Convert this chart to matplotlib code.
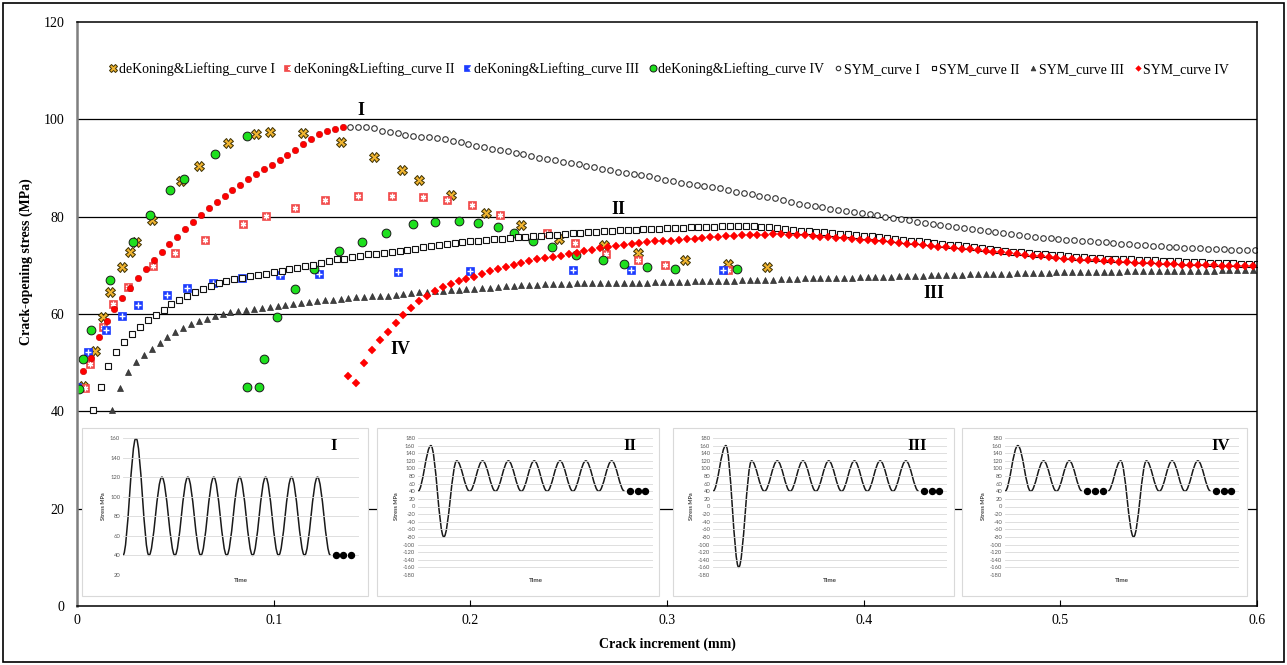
import matplotlib
matplotlib.use("Agg")
import matplotlib.pyplot as plt
from matplotlib.path import Path
from matplotlib.patches import PathPatch, Rectangle
from matplotlib.legend_handler import HandlerTuple

plt.rcParams['font.family'] = ['Liberation Serif', 'DejaVu Serif']
plt.rcParams['axes.unicode_minus'] = False

# ---- deKoning & Liefting test points ----
dk1_x = [0.003, 0.009, 0.013, 0.017, 0.023, 0.027, 0.030, 0.038, 0.053, 0.062, 0.077, 0.091, 0.098, 0.115,
         0.134, 0.151, 0.165, 0.174, 0.190, 0.208, 0.226, 0.245, 0.268, 0.285, 0.309, 0.331, 0.351]
dk1_y = [45.2, 52.3, 59.4, 64.5, 69.7, 72.8, 74.7, 79.3, 87.3, 90.5, 95.2, 97.0, 97.3, 97.2,
         95.4, 92.3, 89.5, 87.6, 84.5, 80.8, 78.2, 75.5, 74.1, 72.5, 71.1, 70.3, 69.7]

dk2_x = [0.004, 0.0066, 0.013, 0.0185, 0.026, 0.0385, 0.050, 0.065, 0.0846, 0.096, 0.111, 0.126, 0.143,
         0.160, 0.176, 0.188, 0.201, 0.215, 0.239, 0.253, 0.269, 0.285, 0.299, 0.331]
dk2_y = [44.7, 49.7, 57.4, 62.0, 65.6, 69.9, 72.6, 75.2, 78.5, 80.1, 81.8, 83.4, 84.2,
         84.2, 84.0, 83.4, 82.4, 80.4, 76.6, 74.5, 72.3, 71.0, 70.1, 69.0]

dk3_x = [0.000, 0.0058, 0.0146, 0.0227, 0.031, 0.046, 0.056, 0.069, 0.084, 0.103, 0.123, 0.163, 0.200,
         0.252, 0.2815, 0.3286]
dk3_y = [45.0, 52.1, 56.8, 59.5, 61.8, 64.0, 65.3, 66.3, 67.3, 68.0, 68.2, 68.7, 68.8,
         69.0, 69.0, 69.0]

dk4_x = [0.0012, 0.0029, 0.007, 0.0168, 0.0283, 0.0373, 0.0473, 0.0544, 0.0702, 0.0863, 0.0863, 0.0925,
         0.095, 0.1015, 0.111, 0.1207, 0.133, 0.145, 0.157, 0.171, 0.182, 0.194, 0.204, 0.214, 0.222,
         0.232, 0.2415, 0.2535, 0.2676, 0.2783, 0.2896, 0.304, 0.3357]
dk4_y = [44.5, 50.8, 56.7, 67.0, 74.8, 80.3, 85.5, 87.7, 92.9, 96.6, 44.9, 44.9,
         50.7, 59.4, 65.2, 69.3, 72.9, 74.8, 76.7, 78.4, 79.0, 79.2, 78.6, 77.9, 76.7,
         75.1, 73.8, 72.1, 71.1, 70.3, 69.7, 69.3, 69.2]

# ---- SYM simulation curves ----
# curve I, overload part (red points)
sym1a_x = [0.003, 0.007, 0.011, 0.015, 0.019, 0.023, 0.027, 0.031, 0.035, 0.039, 0.043, 0.047, 0.051, 0.055,
           0.059, 0.063, 0.067, 0.071, 0.075, 0.079, 0.083, 0.087, 0.091, 0.095, 0.099, 0.103, 0.107, 0.111,
           0.115, 0.119, 0.123, 0.127, 0.131, 0.135]
sym1a_y = [48.3, 51.0, 55.2, 58.6, 61.0, 63.2, 65.3, 67.3, 69.2, 71.0, 72.7, 74.3, 75.9, 77.4,
           78.9, 80.4, 81.8, 83.1, 84.3, 85.5, 86.6, 87.8, 88.8, 89.8, 90.7, 91.6, 92.6, 93.8,
           95.0, 96.0, 96.9, 97.6, 98.0, 98.4]

sym1_x = [0.139, 0.143, 0.147, 0.151, 0.155, 0.159, 0.163, 0.167, 0.171, 0.175, 0.179, 0.183, 0.187, 0.191,
          0.195, 0.199, 0.203, 0.207, 0.211, 0.215, 0.219, 0.223, 0.227, 0.231, 0.235, 0.239, 0.243, 0.247,
          0.251, 0.255, 0.259, 0.263, 0.267, 0.271, 0.275, 0.279, 0.283, 0.287, 0.291, 0.295, 0.299, 0.303,
          0.307, 0.311, 0.315, 0.319, 0.323, 0.327, 0.331, 0.335, 0.339, 0.343, 0.347, 0.351, 0.355, 0.359,
          0.363, 0.367, 0.371, 0.375, 0.379, 0.383, 0.387, 0.391, 0.395, 0.399, 0.403, 0.407, 0.411, 0.415,
          0.419, 0.423, 0.427, 0.431, 0.435, 0.439, 0.443, 0.447, 0.451, 0.455, 0.459, 0.463, 0.467, 0.471,
          0.475, 0.479, 0.483, 0.487, 0.491, 0.495, 0.499, 0.503, 0.507, 0.511, 0.515, 0.519, 0.523, 0.527,
          0.531, 0.535, 0.539, 0.543, 0.547, 0.551, 0.555, 0.559, 0.563, 0.567, 0.571, 0.575, 0.579, 0.583,
          0.587, 0.591, 0.595, 0.599]
sym1_y = [98.4, 98.5, 98.4, 98.2, 97.7, 97.4, 97.1, 96.7, 96.5, 96.4, 96.4, 96.2, 95.9, 95.6,
          95.3, 95.0, 94.6, 94.3, 94.0, 93.7, 93.4, 93.1, 92.8, 92.5, 92.1, 91.8, 91.6, 91.3,
          91.1, 90.8, 90.5, 90.2, 89.8, 89.5, 89.2, 89.0, 88.8, 88.6, 88.3, 88.0, 87.6, 87.3,
          87.0, 86.8, 86.6, 86.4, 86.1, 85.8, 85.4, 85.1, 84.8, 84.6, 84.3, 84.1, 83.8, 83.5,
          83.1, 82.7, 82.4, 82.1, 81.9, 81.6, 81.4, 81.2, 80.9, 80.7, 80.5, 80.3, 80.0, 79.8,
          79.6, 79.3, 79.0, 78.8, 78.5, 78.3, 78.1, 77.9, 77.7, 77.5, 77.3, 77.1, 76.9, 76.7,
          76.5, 76.3, 76.1, 75.9, 75.7, 75.6, 75.4, 75.3, 75.2, 75.0, 74.9, 74.8, 74.7, 74.6,
          74.4, 74.3, 74.2, 74.1, 74.0, 73.9, 73.8, 73.7, 73.6, 73.6, 73.5, 73.4, 73.4, 73.3,
          73.2, 73.2, 73.1, 73.1]

sym2_x = [0.008, 0.012, 0.016, 0.020, 0.024, 0.028, 0.032, 0.036, 0.040, 0.044, 0.048, 0.052, 0.056, 0.060,
          0.064, 0.068, 0.072, 0.076, 0.080, 0.084, 0.088, 0.092, 0.096, 0.100, 0.104, 0.108, 0.112, 0.116,
          0.120, 0.124, 0.128, 0.132, 0.136, 0.140, 0.144, 0.148, 0.152, 0.156, 0.160, 0.164, 0.168, 0.172,
          0.176, 0.180, 0.184, 0.188, 0.192, 0.196, 0.200, 0.204, 0.208, 0.212, 0.216, 0.220, 0.224, 0.228,
          0.232, 0.236, 0.240, 0.244, 0.248, 0.252, 0.256, 0.260, 0.264, 0.268, 0.272, 0.276, 0.280, 0.284,
          0.288, 0.292, 0.296, 0.300, 0.304, 0.308, 0.312, 0.316, 0.320, 0.324, 0.328, 0.332, 0.336, 0.340,
          0.344, 0.348, 0.352, 0.356, 0.360, 0.364, 0.368, 0.372, 0.376, 0.380, 0.384, 0.388, 0.392, 0.396,
          0.400, 0.404, 0.408, 0.412, 0.416, 0.420, 0.424, 0.428, 0.432, 0.436, 0.440, 0.444, 0.448, 0.452,
          0.456, 0.460, 0.464, 0.468, 0.472, 0.476, 0.480, 0.484, 0.488, 0.492, 0.496, 0.500, 0.504, 0.508,
          0.512, 0.516, 0.520, 0.524, 0.528, 0.532, 0.536, 0.540, 0.544, 0.548, 0.552, 0.556, 0.560, 0.564,
          0.568, 0.572, 0.576, 0.580, 0.584, 0.588, 0.592, 0.596, 0.600]
sym2_y = [40.2, 45.0, 49.3, 52.2, 54.2, 55.9, 57.4, 58.7, 59.8, 60.9, 62.0, 62.9, 63.8, 64.5,
          65.1, 65.7, 66.4, 66.8, 67.1, 67.5, 67.8, 68.0, 68.3, 68.6, 68.9, 69.2, 69.5, 69.8,
          70.1, 70.4, 70.8, 71.2, 71.4, 71.7, 72.0, 72.3, 72.4, 72.6, 72.7, 73.0, 73.2, 73.4,
          73.7, 73.9, 74.1, 74.3, 74.5, 74.7, 74.9, 75.1, 75.2, 75.4, 75.5, 75.7, 75.8, 75.9,
          76.0, 76.1, 76.2, 76.3, 76.5, 76.6, 76.7, 76.8, 76.9, 77.0, 77.1, 77.2, 77.2, 77.3,
          77.4, 77.5, 77.5, 77.6, 77.7, 77.7, 77.8, 77.8, 77.9, 77.9, 78.0, 78.0, 78.1, 78.1,
          78.0, 77.9, 77.8, 77.7, 77.5, 77.3, 77.1, 77.0, 76.9, 76.8, 76.7, 76.5, 76.4, 76.3,
          76.1, 76.0, 75.8, 75.6, 75.5, 75.3, 75.1, 74.9, 74.7, 74.6, 74.4, 74.2, 74.1, 73.9,
          73.7, 73.5, 73.3, 73.1, 72.9, 72.8, 72.7, 72.6, 72.4, 72.3, 72.2, 72.1, 71.9, 71.8,
          71.7, 71.6, 71.5, 71.4, 71.3, 71.2, 71.2, 71.1, 71.0, 71.0, 70.9, 70.8, 70.8, 70.7,
          70.6, 70.6, 70.5, 70.5, 70.4, 70.4, 70.3, 70.3, 70.3]

sym3_x = [0.018, 0.022, 0.026, 0.030, 0.034, 0.038, 0.042, 0.046, 0.050, 0.054, 0.058, 0.062, 0.066, 0.070,
          0.074, 0.078, 0.082, 0.086, 0.090, 0.094, 0.098, 0.102, 0.106, 0.110, 0.114, 0.118, 0.122, 0.126,
          0.130, 0.134, 0.138, 0.142, 0.146, 0.150, 0.154, 0.158, 0.162, 0.166, 0.170, 0.174, 0.178, 0.182,
          0.186, 0.190, 0.194, 0.198, 0.202, 0.206, 0.210, 0.214, 0.218, 0.222, 0.226, 0.230, 0.234, 0.238,
          0.242, 0.246, 0.250, 0.254, 0.258, 0.262, 0.266, 0.270, 0.274, 0.278, 0.282, 0.286, 0.290, 0.294,
          0.298, 0.302, 0.306, 0.310, 0.314, 0.318, 0.322, 0.326, 0.330, 0.334, 0.338, 0.342, 0.346, 0.350,
          0.354, 0.358, 0.362, 0.366, 0.370, 0.374, 0.378, 0.382, 0.386, 0.390, 0.394, 0.398, 0.402, 0.406,
          0.410, 0.414, 0.418, 0.422, 0.426, 0.430, 0.434, 0.438, 0.442, 0.446, 0.450, 0.454, 0.458, 0.462,
          0.466, 0.470, 0.474, 0.478, 0.482, 0.486, 0.490, 0.494, 0.498, 0.502, 0.506, 0.510, 0.514, 0.518,
          0.522, 0.526, 0.530, 0.534, 0.538, 0.542, 0.546, 0.550, 0.554, 0.558, 0.562, 0.566, 0.570, 0.574,
          0.578, 0.582, 0.586, 0.590, 0.594, 0.598]
sym3_y = [40.2, 44.8, 48.0, 50.1, 51.6, 52.9, 54.1, 55.2, 56.2, 57.1, 57.9, 58.5, 58.9, 59.5,
          60.0, 60.4, 60.7, 60.9, 61.1, 61.3, 61.5, 61.7, 61.9, 62.1, 62.3, 62.5, 62.6, 62.8,
          62.9, 63.1, 63.2, 63.4, 63.5, 63.6, 63.7, 63.8, 64.0, 64.2, 64.4, 64.5, 64.6, 64.7,
          64.8, 64.9, 65.0, 65.1, 65.2, 65.3, 65.4, 65.6, 65.7, 65.8, 65.9, 66.0, 66.0, 66.1,
          66.1, 66.2, 66.2, 66.3, 66.3, 66.3, 66.3, 66.3, 66.3, 66.3, 66.4, 66.4, 66.4, 66.5,
          66.5, 66.6, 66.6, 66.6, 66.7, 66.7, 66.7, 66.8, 66.8, 66.8, 66.9, 66.9, 66.9, 67.0,
          67.0, 67.1, 67.1, 67.2, 67.3, 67.3, 67.4, 67.4, 67.5, 67.5, 67.5, 67.6, 67.6, 67.7,
          67.7, 67.7, 67.8, 67.8, 67.9, 67.9, 68.0, 68.0, 68.0, 68.1, 68.1, 68.2, 68.2, 68.2,
          68.3, 68.3, 68.3, 68.4, 68.4, 68.5, 68.5, 68.5, 68.6, 68.6, 68.6, 68.6, 68.7, 68.7,
          68.7, 68.7, 68.7, 68.8, 68.8, 68.8, 68.8, 68.8, 68.8, 68.8, 68.9, 68.9, 68.9, 68.9,
          68.9, 69.0, 69.0, 69.0, 69.0, 69.0]

sym4_x = [0.138, 0.142, 0.146, 0.150, 0.154, 0.158, 0.162, 0.166, 0.170, 0.174, 0.178, 0.182, 0.186, 0.190,
          0.194, 0.198, 0.202, 0.206, 0.210, 0.214, 0.218, 0.222, 0.226, 0.230, 0.234, 0.238, 0.242, 0.246,
          0.250, 0.254, 0.258, 0.262, 0.266, 0.270, 0.274, 0.278, 0.282, 0.286, 0.290, 0.294, 0.298, 0.302,
          0.306, 0.310, 0.314, 0.318, 0.322, 0.326, 0.330, 0.334, 0.338, 0.342, 0.346, 0.350, 0.354, 0.358,
          0.362, 0.366, 0.370, 0.374, 0.378, 0.382, 0.386, 0.390, 0.394, 0.398, 0.402, 0.406, 0.410, 0.414,
          0.418, 0.422, 0.426, 0.430, 0.434, 0.438, 0.442, 0.446, 0.450, 0.454, 0.458, 0.462, 0.466, 0.470,
          0.474, 0.478, 0.482, 0.486, 0.490, 0.494, 0.498, 0.502, 0.506, 0.510, 0.514, 0.518, 0.522, 0.526,
          0.530, 0.534, 0.538, 0.542, 0.546, 0.550, 0.554, 0.558, 0.562, 0.566, 0.570, 0.574, 0.578, 0.582,
          0.586, 0.590, 0.594, 0.598]
sym4_y = [47.3, 45.8, 50.0, 52.6, 54.6, 56.4, 58.1, 59.8, 61.3, 62.7, 63.8, 64.7, 65.5, 66.1,
          66.7, 67.2, 67.7, 68.3, 68.8, 69.3, 69.7, 70.1, 70.5, 70.9, 71.2, 71.5, 71.8, 72.0,
          72.3, 72.6, 72.9, 73.2, 73.5, 73.8, 74.0, 74.2, 74.4, 74.6, 74.7, 74.9, 75.0, 75.1,
          75.3, 75.4, 75.5, 75.6, 75.8, 75.9, 76.0, 76.1, 76.2, 76.2, 76.3, 76.3, 76.4, 76.4,
          76.3, 76.3, 76.2, 76.0, 75.9, 75.8, 75.7, 75.6, 75.5, 75.3, 75.2, 75.0, 74.9, 74.8,
          74.6, 74.4, 74.3, 74.1, 73.9, 73.8, 73.7, 73.5, 73.4, 73.3, 73.2, 73.0, 72.8, 72.7,
          72.5, 72.3, 72.2, 72.0, 71.9, 71.7, 71.5, 71.4, 71.2, 71.1, 71.0, 71.0, 70.9, 70.8,
          70.7, 70.6, 70.5, 70.5, 70.4, 70.3, 70.3, 70.2, 70.1, 70.1, 70.0, 70.0, 70.0, 69.9,
          69.9, 69.9, 69.9, 69.9]

# ---- load sequences in the small panels (start time, start value, peaks, valleys per cycle) ----
seq_I = [(0, 40, [160, 120, 120, 120, 120, 120, 120, 120], [40, 40, 40, 40, 40, 40, 40, 40])]
seq_II = [(0, 40, [160, 120, 120, 120, 120, 120, 120, 120], [-80, 40, 40, 40, 40, 40, 40, 40])]
seq_III = [(0, 40, [160, 120, 120, 120, 120, 120, 120, 120], [-160, 40, 40, 40, 40, 40, 40, 40])]
seq_IV = [(0, 40, [160, 120, 120], [40, 40, 40]),
          (4, 40, [120, 120, 120, 120], [-80, 40, 40, 40])]
dots_I = [8.2, 8.5, 8.8]
dots_IV = [3.2, 3.5, 3.8, 8.2, 8.5, 8.8]


def wave_path(segments):
    # smooth half-cycles between peaks and valleys, as bezier pieces
    verts, codes = [], []
    k = 0.3634 * 0.5
    for t, y, peaks, valleys in segments:
        verts.append((t, y))
        codes.append(Path.MOVETO)
        for p, v in zip(peaks, valleys):
            for target in (p, v):
                verts += [(t + k, y), (t + 0.5 - k, target), (t + 0.5, target)]
                codes += [Path.CURVE4] * 3
                t += 0.5
                y = target
    return Path(verts, codes)


W, H = 1287, 665
fig = plt.figure(figsize=(W / 100, H / 100), dpi=100)

ax = fig.add_axes([77 / W, 1 - 606 / H, 1180 / W, 584 / H])
ax.set_xlim(0, 0.6)
ax.set_ylim(0, 120)
ax.set_xticks([0, 0.1, 0.2, 0.3, 0.4, 0.5, 0.6])
ax.set_xticklabels(['0', '0.1', '0.2', '0.3', '0.4', '0.5', '0.6'])
ax.set_yticks([0, 20, 40, 60, 80, 100, 120])
ax.tick_params(axis='y', length=0, pad=9, labelsize=10)
ax.tick_params(axis='x', direction='in', length=4, width=0.8, pad=6, labelsize=10)
for y in [20, 40, 60, 80, 100]:
    ax.axhline(y, color='black', lw=0.9, zorder=0.5)
for s in ['top', 'right', 'bottom']:
    ax.spines[s].set_color('black')
    ax.spines[s].set_linewidth(1.1)
ax.spines['left'].set_color('#7f7f7f')
ax.spines['left'].set_linewidth(1.8)

ax.set_xlabel('Crack increment (mm)', fontsize=10, fontweight='bold')
ax.xaxis.set_label_coords(0.5, -0.054)
ax.set_ylabel('Crack-opening stress (MPa)', fontsize=10, fontweight='bold')
ax.yaxis.set_label_coords(-0.037, 0.589)

h1, = ax.plot(dk1_x, dk1_y, ls='none', marker='X', ms=6.5, mfc='#F0B431', mec='#3a2e00', mew=0.7)
h2a, = ax.plot(dk2_x, dk2_y, ls='none', marker='s', ms=5.5, mfc='#F24B4B', mec='#F24B4B', mew=0.5)
h2b, = ax.plot(dk2_x, dk2_y, ls='none', marker=(6, 2, 0), ms=4, mec='white', mew=0.9)
h3a, = ax.plot(dk3_x, dk3_y, ls='none', marker='s', ms=5.5, mfc='#1c3cff', mec='#1c3cff', mew=0.5)
h3b, = ax.plot(dk3_x, dk3_y, ls='none', marker='+', ms=4.5, mec='white', mew=1.0)
h4, = ax.plot(dk4_x, dk4_y, ls='none', marker='o', ms=6.3, mfc='#1EE01E', mec='#1a1a1a', mew=0.7)
ax.plot(sym1a_x, sym1a_y, ls='none', marker='o', ms=4.6, mfc='#FF0000', mec='#c00000', mew=0.4)
h5, = ax.plot(sym1_x, sym1_y, ls='none', marker='o', ms=4.0, mfc='white', mec='#333333', mew=0.8)
h6, = ax.plot(sym2_x, sym2_y, ls='none', marker='s', ms=4.3, mfc='white', mec='#111111', mew=0.8)
h7, = ax.plot(sym3_x, sym3_y, ls='none', marker='^', ms=4.3, mfc='#404040', mec='#303030', mew=0.5)
h8, = ax.plot(sym4_x, sym4_y, ls='none', marker='D', ms=3.6, mfc='#FF0000', mec='#FF0000', mew=0.3)

labels = ['deKoning&Liefting_curve I', 'deKoning&Liefting_curve II', 'deKoning&Liefting_curve III',
          'deKoning&Liefting_curve IV', 'SYM_curve I', 'SYM_curve II', 'SYM_curve III', 'SYM_curve IV']
ax.legend([h1, (h2a, h2b), (h3a, h3b), h4, h5, h6, h7, h8], labels,
          handler_map={tuple: HandlerTuple(ndivide=None, pad=0)},
          loc='center', bbox_to_anchor=(0.502, 0.9195), ncol=8, frameon=False, fontsize=10,
          handlelength=0.5, handletextpad=0.15, columnspacing=0.75, borderpad=0, markerscale=0.8)

for txt, x, y in [('I', 0.1444, 101.8), ('II', 0.2752, 81.5), ('III', 0.4357, 64.2), ('IV', 0.1642, 52.7)]:
    ax.text(x, y, txt, fontsize=13, fontweight='bold', ha='center', va='center')

# ---- small load-sequence panels ----
panels = [
    (seq_I, dots_I, 'I', (82, 368), 123, 359, (20, 160), 0.894),
    (seq_II, dots_I, 'II', (377, 659), 418, 653, (-180, 180), 0.902),
    (seq_III, dots_I, 'III', (673, 954), 713, 947, (-180, 180), 0.872),
    (seq_IV, dots_IV, 'IV', (962, 1247), 1005, 1239, (-180, 180), 0.923),
]
for seq, dots, name, (bx0, bx1), px0, px1, ylim, nx in panels:
    box = Rectangle((bx0 / W, 1 - 596 / H), (bx1 - bx0) / W, 168 / H, transform=fig.transFigure,
                    facecolor='white', edgecolor='#d9d9d9', lw=0.8, zorder=1)
    fig.patches.append(box)
    iax = fig.add_axes([px0 / W, 1 - 575 / H, (px1 - px0) / W, 137 / H])
    iax.set_zorder(2)
    iax.patch.set_alpha(0)
    iax.set_xlim(0, 9.1)
    iax.set_ylim(*ylim)
    iax.set_yticks(range(ylim[0], ylim[1] + 1, 20))
    iax.set_xticks([])
    iax.tick_params(axis='y', length=0, pad=2, labelsize=4.2, labelcolor='#595959')
    for lab in iax.get_yticklabels():
        lab.set_fontfamily('Lato')
    iax.grid(axis='y', color='#d9d9d9', lw=0.6)
    for s in iax.spines.values():
        s.set_visible(False)
    iax.add_patch(PathPatch(wave_path(seq), facecolor='none', edgecolor='#1a1a1a', lw=1.1))
    iax.plot(dots, [40] * len(dots), ls='none', marker='o', ms=4.3, color='black')
    iax.set_ylabel('Stress MPa', fontsize=4, fontweight='bold', family='Lato', color='#404040', labelpad=3)
    iax.set_xlabel('Time', fontsize=4.5, fontweight='bold', family='Lato', color='#404040', labelpad=2)
    iax.text(nx, 0.94, name, transform=iax.transAxes, fontsize=12, fontweight='bold',
             ha='center', va='center')

fig.patches.append(Rectangle((3 / W, 3 / H), (W - 6) / W, (H - 6) / H, transform=fig.transFigure,
                             fill=False, edgecolor='black', lw=1.2, zorder=5))

fig.savefig('out.png', dpi=100)
